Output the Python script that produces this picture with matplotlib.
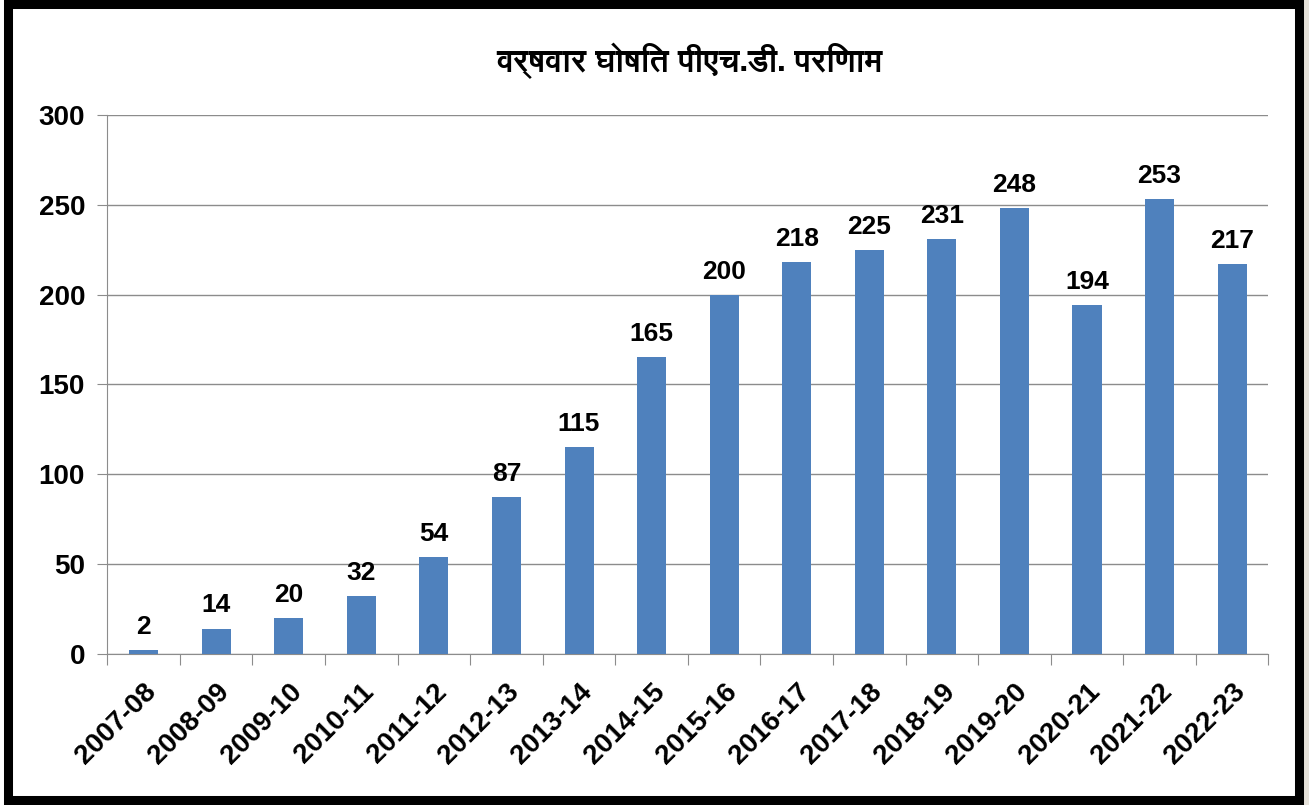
import matplotlib
matplotlib.use("Agg")
import matplotlib.pyplot as plt
from matplotlib import font_manager
from matplotlib.patches import Rectangle

years = ['2007-08', '2008-09', '2009-10', '2010-11', '2011-12', '2012-13',
         '2013-14', '2014-15', '2015-16', '2016-17', '2017-18', '2018-19',
         '2019-20', '2020-21', '2021-22', '2022-23']
results = [2, 14, 20, 32, 54, 87, 115, 165, 200, 218, 225, 231, 248, 194, 253, 217]
yticks = [0, 50, 100, 150, 200, 250, 300]
title = 'वर्षवार घोषित पीएच.डी. परिणाम'

# look for a font that has Devanagari glyphs
deva = []
for f in font_manager.fontManager.ttflist:
    if 'Devanagari' in f.name or 'Lohit' in f.name or 'Mangal' in f.name or 'FreeSans' in f.name:
        deva.append(f.name)

plt.rcParams['font.family'] = ['Liberation Sans', 'DejaVu Sans']
bar_color = '#4f81bd'

fig = plt.figure(figsize=(13.09, 8.05), dpi=100, facecolor='#e6e2da')
ax = fig.add_axes([0.082, 0.188, 0.887, 0.669])

x = range(len(years))
bars = ax.bar(x, results, width=0.4, color=bar_color, zorder=3)

ax.set_xlim(-0.5, len(years) - 0.5)
ax.set_ylim(0, 300)
ax.set_yticks(yticks)
ax.set_yticklabels([str(v) for v in yticks], fontsize=20, fontweight='bold')
ax.grid(axis='y', color='#8c8c8c', linewidth=1, zorder=0)

for s in ['top', 'right']:
    ax.spines[s].set_visible(False)
for s in ['left', 'bottom']:
    ax.spines[s].set_color('#8c8c8c')

ax.tick_params(axis='y', length=7, color='#8c8c8c', pad=9)
ax.set_xticks([i + 0.5 for i in range(-1, len(years))], minor=False)
ax.set_xticklabels([])
ax.tick_params(axis='x', which='major', length=8, color='#8c8c8c')
ax.set_xticks(list(x), minor=True)
ax.set_xticklabels(years, minor=True, rotation=45, ha='right', rotation_mode='anchor',
                   fontsize=20, fontweight='bold')
ax.tick_params(axis='x', which='minor', length=0, pad=18)

for b, v in zip(bars, results):
    ax.annotate(str(v), (b.get_x() + b.get_width() / 2, v), xytext=(0, 8),
                textcoords='offset points', ha='center', va='bottom',
                fontsize=19, fontweight='bold')

tfam = list(dict.fromkeys(deva)) + ['DejaVu Sans']
fig.text(0.527, 0.925, title, ha='center', va='center', fontsize=23,
         fontweight='bold', family=tfam)

# white card inside a thick black frame, light shadow on the right
fig.patches.append(Rectangle((0.0, 0.0), 0.9955, 1.0, transform=fig.transFigure,
                             facecolor='white', edgecolor='none', zorder=-5))
fig.patches.append(Rectangle((0.0061, 0.006), 0.9863, 0.989, transform=fig.transFigure,
                             fill=False, edgecolor='black', linewidth=6.5, zorder=10))

fig.savefig('out.png', dpi=100, facecolor=fig.get_facecolor())
